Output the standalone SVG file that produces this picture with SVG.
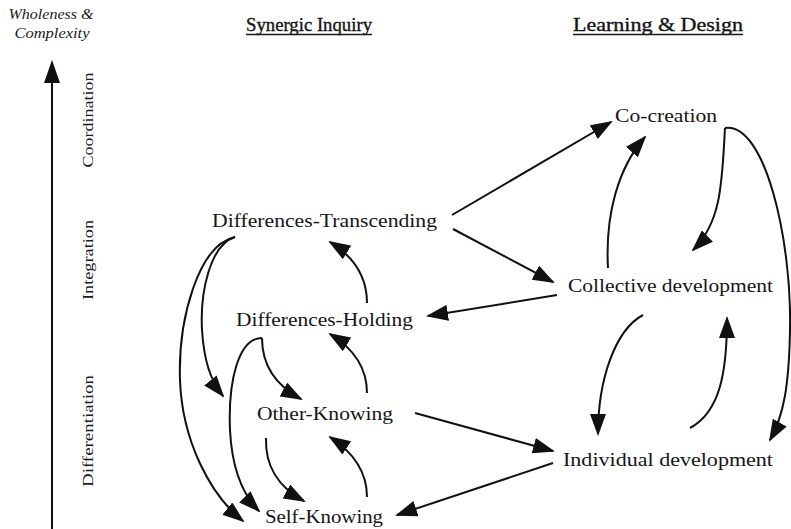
<svg xmlns="http://www.w3.org/2000/svg" width="791" height="529" viewBox="0 0 791 529">
<style>
  .node { font-family: "Liberation Serif", "DejaVu Serif", serif; font-size: 19px; fill: #151515; }
  .hdr { font-family: "Liberation Serif", "DejaVu Serif", serif; font-size: 18px; fill: #151515; stroke: #151515; stroke-width: 0.35; }
  .ax { font-family: "Liberation Serif", "DejaVu Serif", serif; font-size: 14px; fill: #1a1a1a; }
  .it { font-family: "Liberation Serif", "DejaVu Serif", serif; font-size: 15px; font-style: italic; fill: #1a1a1a; }
  .c { fill: none; stroke: #111; stroke-width: 2; marker-end: url(#ah); }
  .ul { stroke: #1a1a1a; stroke-width: 1.3; }
</style>
<defs>
  <marker id="ah" viewBox="0 0 22 16" refX="20" refY="8" markerWidth="22" markerHeight="16" markerUnits="userSpaceOnUse" orient="auto">
    <path d="M0,0 L22,8 L0,16 z" fill="#111"/>
  </marker>
</defs>
<rect width="791" height="529" fill="#fff"/>

<g id="axis">
  <text class="it" x="51" y="19" text-anchor="middle" textLength="85" lengthAdjust="spacingAndGlyphs">Wholeness &amp;</text>
  <text class="it" x="52" y="38" text-anchor="middle" textLength="75" lengthAdjust="spacingAndGlyphs">Complexity</text>
  <line x1="52" y1="529" x2="52" y2="62" stroke="#111" stroke-width="2"/>
  <path d="M52,60 L60,83 L44,83 z" fill="#111"/>
  <text class="ax" transform="translate(93,120) rotate(-90)" text-anchor="middle" textLength="95" lengthAdjust="spacingAndGlyphs">Coordination</text>
  <text class="ax" transform="translate(93,260) rotate(-90)" text-anchor="middle" textLength="80" lengthAdjust="spacingAndGlyphs">Integration</text>
  <text class="ax" transform="translate(93,431) rotate(-90)" text-anchor="middle" textLength="112" lengthAdjust="spacingAndGlyphs">Differentiation</text>
</g>

<g id="header-synergic">
  <text class="hdr" x="246" y="31" textLength="126" lengthAdjust="spacingAndGlyphs">Synergic Inquiry</text>
  <line class="ul" x1="246" y1="34.5" x2="372" y2="34.5"/>
</g>
<g id="header-learning">
  <text class="hdr" x="573" y="31" textLength="170" lengthAdjust="spacingAndGlyphs">Learning &amp; Design</text>
  <line class="ul" x1="573" y1="34.5" x2="743" y2="34.5"/>
</g>

<g id="n-dt"><text class="node" x="212" y="227" textLength="225" lengthAdjust="spacingAndGlyphs">Differences-Transcending</text></g>
<g id="n-dh"><text class="node" x="236" y="326" textLength="177" lengthAdjust="spacingAndGlyphs">Differences-Holding</text></g>
<g id="n-ok"><text class="node" x="257" y="420" textLength="136" lengthAdjust="spacingAndGlyphs">Other-Knowing</text></g>
<g id="n-sk"><text class="node" x="265" y="523" textLength="118" lengthAdjust="spacingAndGlyphs">Self-Knowing</text></g>
<g id="n-cc"><text class="node" x="615" y="122" textLength="102" lengthAdjust="spacingAndGlyphs">Co-creation</text></g>
<g id="n-cd"><text class="node" x="568" y="292" textLength="205" lengthAdjust="spacingAndGlyphs">Collective development</text></g>
<g id="n-id"><text class="node" x="563" y="466" textLength="210" lengthAdjust="spacingAndGlyphs">Individual development</text></g>

<g id="connectors">
  <path class="c" d="M452,215 L611,122"/>
  <path class="c" d="M453,229 L553,282"/>
  <path class="c" d="M557,295 L428,316"/>
  <path class="c" d="M608,268 C605,215 618,168 645,137"/>
  <path class="c" d="M725,128 C722,180 722,222 693,250"/>
  <path class="c" d="M725,128 C765,122 792,240 790,330 C789,385 784,415 770,440"/>
  <path class="c" d="M643,315 C615,330 598,380 598,434"/>
  <path class="c" d="M690,428 C720,412 727,372 727,318"/>
  <path class="c" d="M415,413 L553,451"/>
  <path class="c" d="M553,463 L397,515"/>
  <path class="c" d="M367,303 C367,280 356,258 330,242"/>
  <path class="c" d="M367,393 C367,370 356,350 330,334"/>
  <path class="c" d="M367,497 C367,474 356,454 330,437"/>
  <path class="c" d="M262,338 C262,365 275,385 301,399"/>
  <path class="c" d="M266,438 C265,465 278,487 304,501"/>
  <path class="c" d="M262,338 C238,338 228,382 230,430 C232,470 243,495 259,511"/>
  <path class="c" d="M235,237 C210,245 200,292 202,330 C204,360 210,380 223,396"/>
  <path class="c" d="M235,237 C198,245 178,320 180,380 C182,440 210,495 243,521"/>
</g>
</svg>
